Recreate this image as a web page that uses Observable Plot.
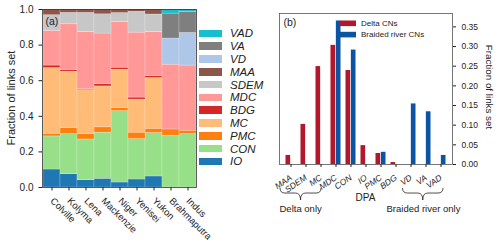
<!DOCTYPE html>
<html><head><meta charset="utf-8">
<script src="https://cdn.jsdelivr.net/npm/d3@7"></script>
<script src="https://cdn.jsdelivr.net/npm/@observablehq/plot@0.6"></script>
<style>
body{margin:0;background:#fff;}
#root{position:relative;width:500px;height:244px;overflow:hidden;font-family:"Liberation Sans",Arial,sans-serif;}
#root > *{position:absolute;top:0;}
</style></head><body><div id="root"></div>
<script>
// ---------- Panel (a) data ----------
const rivers = ["Colville","Kolyma","Lena","Mackenzie","Niger","Yenisei","Yukon","Brahmaputra","Indus"];
const stackOrder = ["IO","CON","PMC","MC","BDG","MDC","SDEM","MAA","VD","VA","VAD"];
const dpaColors = ["#1f77b4","#98df8a","#ff7f0e","#ffbb78","#d62728","#ff9896","#c7c7c7","#8c564b","#aec7e8","#7f7f7f","#17becf"];
const IO   = [0.101,0.075,0.041,0.049,0.028,0.045,0.062,0,0];
const CON  = [0.186,0.225,0.229,0.259,0.401,0.227,0.244,0.291,0.300];
const PMC  = [0.015,0.034,0.030,0.030,0.017,0.036,0.024,0.035,0.019];
const MC   = [0.369,0.317,0.248,0.230,0.216,0.186,0.285,0,0];
const BDG  = [0.014,0.009,0.005,0.012,0.011,0.011,0.010,0,0];
const MDC  = [0.195,0.257,0.321,0.285,0.257,0.365,0.249,0.364,0.366];
const SDEM = [0.088,0.064,0.107,0.108,0.050,0.117,0.098,0,0];
const MAA  = [0.032,0.019,0.019,0.027,0.020,0.013,0.028,0,0];
const VD   = [0,0,0,0,0,0,0,0.147,0.183];
const VA   = [0,0,0,0,0,0,0,0.140,0.119];
const VAD  = [0,0,0,0,0,0,0,0.023,0.013];
const yTicksA = [0,0.2,0.4,0.6,0.8,1.0];

// ---------- Panel (b) data ----------
const dpaCats = ["MAA","SDEM","MC","MDC","CON","IO","PMC","BDG","VD","VA","VAD"];
const deltaVals   = [0.023,0.102,0.249,0.303,0.239,0.048,0.028,0.005,0,0,0];
const braidedVals = [0,0,0,0.365,0.291,0,0.031,0,0.154,0.134,0.023];
const yTicksB = [0,0.05,0.10,0.15,0.20,0.25,0.30,0.35];
const seriesNames = ["Delta CNs","Braided river CNs"];
const seriesColors = ["#b2172b","#0b53a3"];

const FONT = '"Liberation Sans", Arial, sans-serif';
const root = document.getElementById("root");

const seriesA = {IO,CON,PMC,MC,BDG,MDC,SDEM,MAA,VD,VA,VAD};
const tableA = [];
stackOrder.forEach(k => rivers.forEach((r,i) => tableA.push({river:r, dpa:k, value:seriesA[k][i]})));

const plotA = Plot.plot({
  width: 198, height: 244,
  marginTop: 9, marginBottom: 57, marginLeft: 42, marginRight: 2,
  style: {fontFamily: FONT, fontSize: "10px", color: "#222", background: "transparent", overflow: "visible"},
  x: {domain: rivers, padding: 0},
  y: {domain: [0,1]},
  color: {domain: stackOrder, range: dpaColors},
  marks: [
    Plot.barY(tableA, Plot.stackY({order: stackOrder}, {x: "river", y: "value", fill: "dpa", stroke: "white", strokeOpacity: 0.35, strokeWidth: 0.6})),
    Plot.frame({stroke: "#333", strokeWidth: 0.8}),
    Plot.axisY({ticks: yTicksA, tickFormat: d3.format(".1f"), tickSize: 3.5, fontSize: 10, label: null}),
    Plot.axisX({tickRotate: 45, tickSize: 3.5, fontSize: 9.5, label: null}),
    Plot.text(["(a)"], {frameAnchor: "top-left", text: d => d, textAnchor: "start", lineAnchor: "top", dx: 3, dy: 8, fontSize: 10.5, fill: "#222"})
  ]
});
plotA.style.left = "0px";
root.appendChild(plotA);

const tableB = [];
dpaCats.forEach((c,i) => {
  tableB.push({cat:c, series: seriesNames[0], value: deltaVals[i]});
  tableB.push({cat:c, series: seriesNames[1], value: braidedVals[i]});
});

const plotB = Plot.plot({
  width: 250, height: 244,
  marginTop: 13, marginBottom: 80, marginLeft: 29, marginRight: 48,
  style: {fontFamily: FONT, fontSize: "8.5px", color: "#222", background: "transparent", overflow: "visible"},
  x: {domain: dpaCats, padding: 0},
  y: {domain: [0, 0.384]},
  color: {domain: seriesNames, range: seriesColors},
  marks: [
    Plot.barY(tableB.filter(d => d.series === seriesNames[0]), {x: "cat", y: "value", fill: "series", insetLeft: 2.5, insetRight: 7.85}),
    Plot.barY(tableB.filter(d => d.series === seriesNames[1]), {x: "cat", y: "value", fill: "series", insetLeft: 7.85, insetRight: 2.5}),
    Plot.frame({stroke: "#555", strokeWidth: 0.8}),
    Plot.axisY({anchor: "right", ticks: yTicksB, tickFormat: d3.format(".2f"), tickSize: 3, fontSize: 8.5, label: null}),
    Plot.axisX({tickRotate: -35, tickSize: 3, fontSize: 8.5, fontStyle: "italic", label: null}),
    Plot.text(["(b)"], {frameAnchor: "top-left", text: d => d, textAnchor: "start", lineAnchor: "top", dx: 4, dy: 5, fontSize: 10.5, fill: "#222"})
  ]
});
plotB.style.left = "250px";
root.appendChild(plotB);

// ---------- Legend for panel (a) ----------
const legA = document.createElement("div");
legA.style.left = "199px"; legA.style.top = "27px";
stackOrder.slice().reverse().forEach(k => {
  const row = document.createElement("div");
  row.style.cssText = "display:flex;align-items:center;height:12.8px;";
  const sw = document.createElement("span");
  sw.style.cssText = `display:inline-block;width:23px;height:7.5px;background:${dpaColors[stackOrder.indexOf(k)]};`;
  const lb = document.createElement("span");
  lb.textContent = k;
  lb.style.cssText = `margin-left:8px;font-style:italic;font-size:11.5px;color:#222;font-family:${FONT};line-height:12px;`;
  row.appendChild(sw); row.appendChild(lb);
  legA.appendChild(row);
});
root.appendChild(legA);

// ---------- Overlay annotations ----------
const svg = d3.select(root).append("svg").attr("width", 500).attr("height", 244)
  .style("left", "0px").style("font-family", FONT);

// y labels
svg.append("text").attr("transform", "translate(15,98) rotate(-90)").attr("text-anchor", "middle")
  .attr("font-size", 11).attr("fill", "#222").text("Fraction of links set");
svg.append("text").attr("transform", "translate(486,87) rotate(90)").attr("text-anchor", "middle")
  .attr("font-size", 9.8).attr("fill", "#222").text("Fraction of links set");

// legend for panel (b)
seriesNames.forEach((s,i) => {
  const y = 23.3 + i * 11.3;
  svg.append("rect").attr("x", 340).attr("y", y - 2.8).attr("width", 16).attr("height", 5.6).attr("fill", seriesColors[i]);
  svg.append("text").attr("x", 361).attr("y", y).attr("dy", "0.35em").attr("font-size", 8).attr("fill", "#222").text(s);
});

// braces under panel (b)
const xs = plotB.scale("x");
const cx = c => 250 + xs.apply(c) + xs.bandwidth / 2;
function brace(x0, x1, y, h) {
  const xm = (x0 + x1) / 2, q = 5, ym = y + h * 0.42;
  return `M${x0},${y} Q${x0},${ym} ${x0+q},${ym} L${xm-q},${ym} Q${xm},${ym} ${xm},${y+h} Q${xm},${ym} ${xm+q},${ym} L${x1-q},${ym} Q${x1},${ym} ${x1},${y}`;
}
svg.append("path").attr("d", brace(cx("MAA") - 10.5, cx("MC") + 0.5, 188, 12)).attr("fill", "none").attr("stroke", "#222").attr("stroke-width", 0.8);
svg.append("path").attr("d", brace(cx("VD") - 8, cx("VAD") + 2.5, 188, 12)).attr("fill", "none").attr("stroke", "#222").attr("stroke-width", 0.8);
svg.append("text").attr("x", cx("MAA") - 11).attr("y", 212).attr("font-size", 9.5).attr("fill", "#222").text("Delta only");
svg.append("text").attr("x", cx("VD") - 24).attr("y", 212).attr("font-size", 9.5).attr("fill", "#222").text("Braided river only");
svg.append("text").attr("x", cx("IO")).attr("y", 201).attr("text-anchor", "middle").attr("font-size", 10).attr("fill", "#222").text("DPA");
</script></body></html>
